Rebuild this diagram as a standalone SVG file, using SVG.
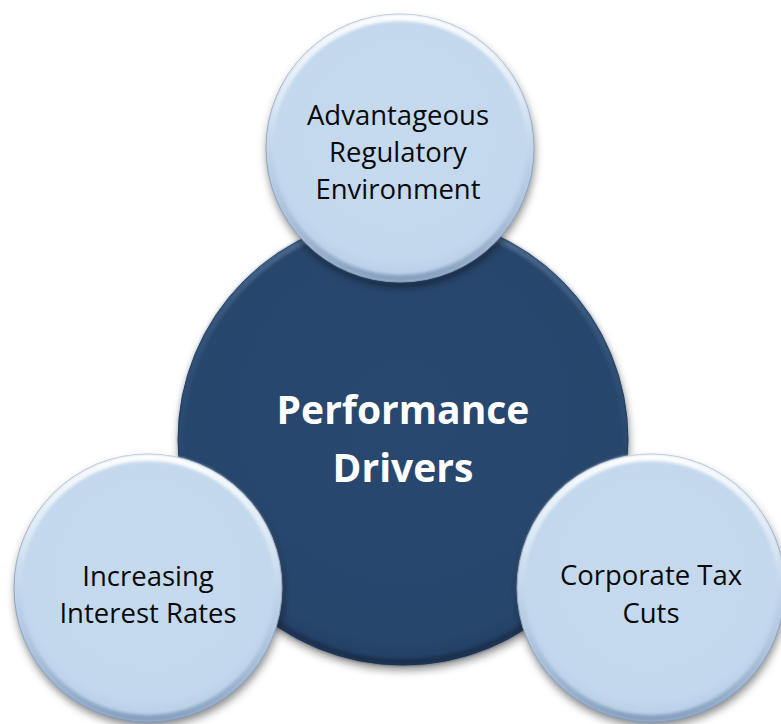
<svg xmlns="http://www.w3.org/2000/svg" width="781" height="724" viewBox="0 0 781 724">
  <style>
    .lt { font-family: "Open Sans", "Noto Sans", "Liberation Sans", sans-serif; font-size: 27.5px; fill: #0a0a0a; text-anchor: middle; }
    .ct { font-family: "Open Sans", "Noto Sans", "Liberation Sans", sans-serif; font-size: 39px; font-weight: bold; fill: #ffffff; text-anchor: middle; }
    .lfill { fill: url(#lightFill); stroke: #8aa2bf; stroke-width: 1; }
    .lbevel { fill: none; stroke: url(#lightBevel); stroke-width: 7; filter: url(#soft); }
    .dfill { fill: url(#darkFill); stroke: #1e3a5e; stroke-width: 1; }
    .dbevel { fill: none; stroke: url(#darkBevel); stroke-width: 6; filter: url(#soft); }
  </style>
  <defs>
    <filter id="shadow" x="-20%" y="-20%" width="140%" height="150%">
      <feGaussianBlur in="SourceAlpha" stdDeviation="4"/>
      <feOffset dx="1" dy="5" result="b"/>
      <feFlood flood-color="#000000" flood-opacity="0.45"/>
      <feComposite in2="b" operator="in"/>
    </filter>
    <filter id="soft" x="-10%" y="-10%" width="120%" height="120%">
      <feGaussianBlur stdDeviation="1.4"/>
    </filter>
    <radialGradient id="lightFill" cx="0.5" cy="0.45" r="0.55">
      <stop offset="0" stop-color="#c6daee"/>
      <stop offset="0.85" stop-color="#c3d8ed"/>
      <stop offset="1" stop-color="#b6cce5"/>
    </radialGradient>
    <linearGradient id="lightBevel" x1="0" y1="0" x2="0" y2="1">
      <stop offset="0" stop-color="#ffffff" stop-opacity="0.95"/>
      <stop offset="0.35" stop-color="#ffffff" stop-opacity="0.35"/>
      <stop offset="0.6" stop-color="#a9bfd8" stop-opacity="0.25"/>
      <stop offset="1" stop-color="#7590b2" stop-opacity="0.75"/>
    </linearGradient>
    <radialGradient id="darkFill" cx="0.5" cy="0.45" r="0.55">
      <stop offset="0" stop-color="#29486f"/>
      <stop offset="0.9" stop-color="#27466c"/>
      <stop offset="1" stop-color="#223f63"/>
    </radialGradient>
    <linearGradient id="darkBevel" x1="0" y1="0" x2="0" y2="1">
      <stop offset="0" stop-color="#5a779b" stop-opacity="0.8"/>
      <stop offset="0.4" stop-color="#3b5a80" stop-opacity="0.3"/>
      <stop offset="0.7" stop-color="#1c3455" stop-opacity="0.3"/>
      <stop offset="1" stop-color="#162c49" stop-opacity="0.9"/>
    </linearGradient>
  </defs>
  <rect width="781" height="724" fill="#ffffff"/>
  <g id="connectors"/>
  <g id="center-node">
    <circle cx="403" cy="440" r="225" fill="#000" filter="url(#shadow)"/>
    <circle cx="403" cy="440" r="225" class="dfill"/>
    <circle cx="403" cy="440" r="222" class="dbevel"/>
    <text class="ct" x="403" y="424">Performance</text>
    <text class="ct" x="403" y="482">Drivers</text>
  </g>
  <g id="node-top">
    <circle cx="400" cy="148" r="134" fill="#000" filter="url(#shadow)"/>
    <circle cx="400" cy="148" r="134" class="lfill"/>
    <circle cx="400" cy="148" r="130.5" class="lbevel"/>
    <text class="lt" x="398" y="125">Advantageous</text>
    <text class="lt" x="398" y="162">Regulatory</text>
    <text class="lt" x="398" y="199">Environment</text>
  </g>
  <g id="node-left">
    <circle cx="148" cy="588" r="134" fill="#000" filter="url(#shadow)"/>
    <circle cx="148" cy="588" r="134" class="lfill"/>
    <circle cx="148" cy="588" r="130.5" class="lbevel"/>
    <text class="lt" x="148" y="586">Increasing</text>
    <text class="lt" x="148" y="623">Interest Rates</text>
  </g>
  <g id="node-right">
    <circle cx="651" cy="588" r="134" fill="#000" filter="url(#shadow)"/>
    <circle cx="651" cy="588" r="134" class="lfill"/>
    <circle cx="651" cy="588" r="130.5" class="lbevel"/>
    <text class="lt" x="651" y="585">Corporate Tax</text>
    <text class="lt" x="651" y="623">Cuts</text>
  </g>
</svg>
